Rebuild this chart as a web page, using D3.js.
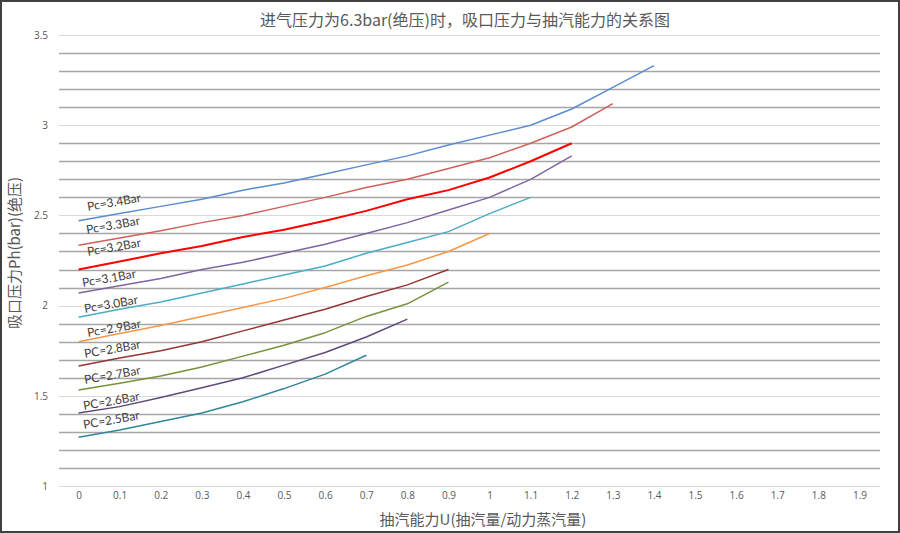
<!DOCTYPE html>
<html><head><meta charset="utf-8">
<script src="https://cdn.jsdelivr.net/npm/d3@7"></script>
<style>body{margin:0;background:#fff}svg{display:block}</style>
</head><body><svg id="c" width="900" height="533"></svg>
<script>
const categories = ["0","0.1","0.2","0.3","0.4","0.5","0.6","0.7","0.8","0.9","1","1.1","1.2","1.3","1.4","1.5","1.6","1.7","1.8","1.9"];
const yTicks = [1,1.5,2,2.5,3,3.5];
const seriesNames = ["Pc=3.4Bar","Pc=3.3Bar","Pc=3.2Bar","Pc=3.1Bar","Pc=3.0Bar","Pc=2.9Bar","PC=2.8Bar","PC=2.7Bar","PC=2.6Bar","PC=2.5Bar"];
const s34 = [2.47,2.51,2.55,2.59,2.64,2.68,2.73,2.78,2.83,2.89,2.945,3.0,3.09,3.21,3.33];
const s33 = [2.335,2.375,2.415,2.46,2.50,2.55,2.60,2.655,2.70,2.76,2.82,2.90,2.99,3.12];
const s32 = [2.20,2.245,2.29,2.33,2.38,2.42,2.47,2.525,2.59,2.64,2.71,2.80,2.90];
const s31 = [2.07,2.11,2.15,2.20,2.24,2.29,2.34,2.40,2.46,2.53,2.60,2.70,2.83];
const s30 = [1.935,1.98,2.02,2.07,2.12,2.17,2.22,2.29,2.35,2.41,2.51,2.60];
const s29 = [1.80,1.845,1.89,1.94,1.99,2.04,2.10,2.165,2.225,2.30,2.40];
const s28 = [1.665,1.71,1.75,1.80,1.86,1.92,1.98,2.05,2.115,2.20];
const s27 = [1.532,1.57,1.61,1.66,1.72,1.78,1.85,1.94,2.01,2.13];
const s26 = [1.405,1.44,1.49,1.545,1.60,1.67,1.74,1.826,1.925];
const s25 = [1.27,1.31,1.357,1.405,1.467,1.54,1.62,1.725];
const seriesValues = [s34,s33,s32,s31,s30,s29,s28,s27,s26,s25];
const colors = ["#5b8bd0","#d0605a","#ff0000","#8064a2","#4bacc6","#f79646","#943634","#76923c","#5f497a","#31859c"];
const widths = [1.5,1.5,2,1.5,1.5,1.5,1.5,1.5,1.5,1.5];
const labelPos = [[88,211],[87,234],[88,256],[83,287],[85,313],[88,337],[85,358],[85,384],[84,410],[84,429]];

const svg = d3.select("#c");
svg.append("rect").attr("x",1).attr("y",1).attr("width",898).attr("height",531).attr("fill","#fff").attr("stroke","#404040").attr("stroke-width",2);

const x = d3.scalePoint().domain(categories).range([58,880]).padding(0.5);
const y = d3.scaleLinear().domain([1,3.5]).range([486,35]);

// gridlines every 0.1
const grid = d3.range(10,36).map(v=>v/10);
svg.append("g").selectAll("line").data(grid).join("line")
  .attr("x1",59).attr("x2",880)
  .attr("y1",d=>Math.round(y(d))+0.5).attr("y2",d=>Math.round(y(d))+0.5)
  .attr("stroke",d=>Math.abs(d*2-Math.round(d*2))<1e-6?"#d9d9d9":"#a6a6a6")
  .attr("stroke-width",d=>Math.abs(d*2-Math.round(d*2))<1e-6?1:1.6);

// y axis labels
const yAxis = d3.axisLeft(y).tickValues(yTicks).tickSize(0).tickPadding(0).tickFormat(d3.format("~g"));
const gy = svg.append("g").attr("transform","translate(48,0)").call(yAxis);
gy.select(".domain").remove();
gy.selectAll("text").attr("fill","#595959").style("font-family","Open Sans, sans-serif").style("font-size","10px");

// x axis labels
const xAxis = d3.axisBottom(x).tickSize(0).tickPadding(0);
const gx = svg.append("g").attr("transform","translate(0,492)").call(xAxis);
gx.select(".domain").remove();
gx.selectAll("text").attr("fill","#595959").style("font-family","Open Sans, sans-serif").style("font-size","10px");

// lines
const line = d3.line().x((d,i)=>x(categories[i])).y(d=>y(d));
seriesValues.forEach((vals,k)=>{
  svg.append("path").datum(vals).attr("d",line).attr("fill","none")
    .attr("stroke",colors[k]).attr("stroke-width",widths[k]).attr("stroke-linejoin","round");
});

// series labels
svg.append("g").selectAll("text").data(seriesNames).join("text")
  .attr("transform",(d,i)=>`translate(${labelPos[i][0]},${labelPos[i][1]}) rotate(-10)`)
  .text(d=>d).attr("fill","#404040")
  .style("font-family","Lato, sans-serif").style("font-size","12px");

// titles
svg.append("text").attr("x",465).attr("y",26).attr("text-anchor","middle")
  .attr("fill","#595959").style("font-family","Noto Sans CJK SC, sans-serif").style("font-size","16px")
  .text("进气压力为6.3bar(绝压)时，吸口压力与抽汽能力的关系图");
svg.append("text").attr("transform","translate(20,253) rotate(-90)").attr("text-anchor","middle")
  .attr("fill","#595959").style("font-family","Noto Sans CJK SC, sans-serif").style("font-size","15px")
  .text("吸口压力Ph(bar)(绝压)");
svg.append("text").attr("x",483).attr("y",525).attr("text-anchor","middle")
  .attr("fill","#595959").style("font-family","Noto Sans CJK SC, sans-serif").style("font-size","15px")
  .text("抽汽能力U(抽汽量/动力蒸汽量)");
</script></body></html>
